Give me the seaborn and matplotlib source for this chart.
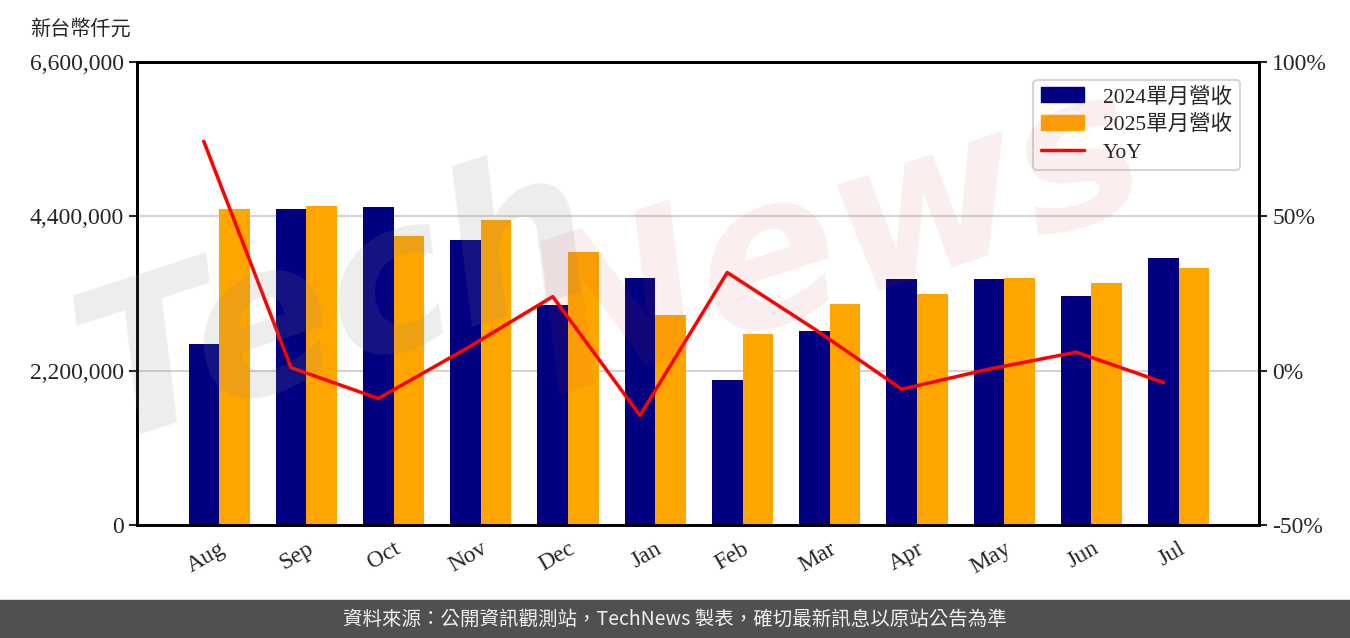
import numpy as np
import pandas as pd
import seaborn as sns
import matplotlib.pyplot as plt
from matplotlib.patches import Patch
from matplotlib.lines import Line2D
from matplotlib.ticker import FuncFormatter

months = ['Aug', 'Sep', 'Oct', 'Nov', 'Dec', 'Jan', 'Feb', 'Mar', 'Apr', 'May', 'Jun', 'Jul']
rev_2024 = [2580000, 4504000, 4533000, 4063000, 3136000, 3521000,
            2067000, 2765000, 3507000, 3507000, 3264000, 3806000]
rev_2025 = [4504000, 4547000, 4120000, 4348000, 3892000, 2994000,
            2723000, 3150000, 3293000, 3521000, 3450000, 3663000]
yoy = [74.3, 1.0, -9.0, 7.0, 24.0, -14.5, 31.8, 13.5, -6.0, 0.5, 6.0, -3.8]
series = ['2024單月營收', '2025單月營收']
colors = ['#000080', '#FFA500']

sns.set_style('white')
plt.rcParams['font.family'] = ['Liberation Serif', 'Noto Sans CJK TC']

df = pd.DataFrame({
    'month': months * 2,
    'value': rev_2024 + rev_2025,
    'series': [series[0]] * 12 + [series[1]] * 12,
})

fig = plt.figure(figsize=(13.5, 6.38), dpi=100)
ax = fig.add_axes([0.1015, 0.1771, 0.8311, 0.7257])

sns.barplot(data=df, x='month', y='value', hue='series', palette=colors,
            width=0.7, saturation=1, linewidth=0, ax=ax, legend=False, zorder=2)
ax.set_xlim(-0.94, 11.92)
ax.set_ylim(0, 6600000)
ax.set_yticks([0, 2200000, 4400000, 6600000])
ax.yaxis.set_major_formatter(FuncFormatter(lambda v, p: f'{int(v):,}'))
ax.yaxis.grid(True, color='#d3d3d3', lw=1.5, zorder=0)
ax.set_axisbelow(True)
ax.set_xlabel('')
ax.set_ylabel('')
ax.tick_params(axis='both', labelsize=17, length=6, width=1.5, direction='out')
plt.setp(ax.get_xticklabels(), rotation=30, ha='right', rotation_mode='anchor')

ax2 = ax.twinx()
sns.lineplot(x=np.arange(len(months)) - 0.175, y=yoy, color='red', lw=2.5, ax=ax2, zorder=3)
ax2.set_ylim(-50, 100)
ax2.set_yticks([-50, 0, 50, 100])
ax2.yaxis.set_major_formatter(FuncFormatter(lambda v, p: f'{int(v)}%'))
ax2.tick_params(axis='y', labelsize=17, length=6, width=1.5)
for a in (ax, ax2):
    for s in a.spines.values():
        s.set_linewidth(2)
        s.set_color('black')

handles = [Patch(color=colors[0], label=series[0]),
           Patch(color=colors[1], label=series[1]),
           Line2D([0], [0], color='red', lw=2.5, label='YoY')]
leg = ax2.legend(handles=handles, loc='upper right', fontsize=15.5, frameon=True,
                 borderpad=0.35, handlelength=2.0, handletextpad=0.9, labelspacing=0.35,
                 bbox_to_anchor=(0.9925, 0.985))
leg.get_frame().set_edgecolor('#cccccc')
leg.get_frame().set_linewidth(1.5)

fig.text(0.022, 0.955, '新台幣仟元', fontsize=14.5, ha='left', va='center',
         family=['Noto Sans CJK TC', 'DejaVu Sans'])

# watermark
fig.text(0.25, 0.52, 'Tech', fontsize=150, fontstyle='italic', fontweight='bold',
         color='#888888', alpha=0.15, rotation=18, ha='center', va='center',
         family=['DejaVu Sans'], zorder=5)
fig.text(0.62, 0.62, 'News', fontsize=150, fontstyle='italic', fontweight='bold',
         color='#d04040', alpha=0.09, rotation=18, ha='center', va='center',
         family=['DejaVu Sans'], zorder=5)

# footer
fig.patches.append(plt.Rectangle((0, 0), 1, 38 / 638, transform=fig.transFigure,
                                 color='#505050', zorder=0))
fig.text(0.5, 19 / 638, '資料來源：公開資訊觀測站，TechNews 製表，確切最新訊息以原站公告為準',
         fontsize=14, color='#f0f0f0', ha='center', va='center',
         family=['Noto Sans CJK TC', 'DejaVu Sans'])

fig.savefig('out.png', dpi=100)
